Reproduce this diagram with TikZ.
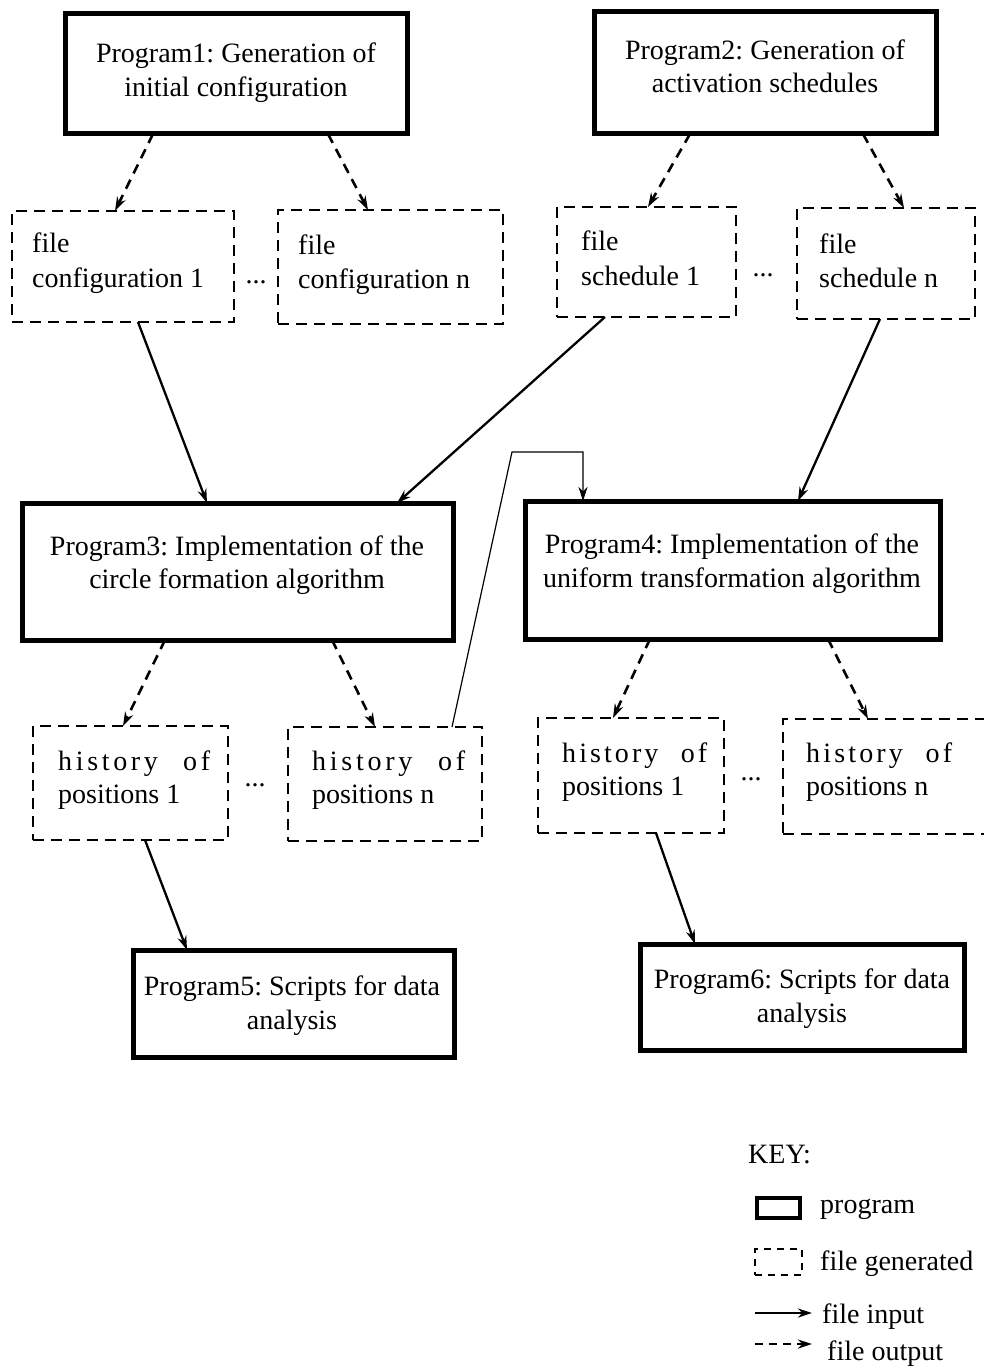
\documentclass[tikz,border=0pt]{standalone}
\usepackage{fontspec}
\setmainfont{Liberation Serif}
\usetikzlibrary{arrows.meta}
\frenchspacing
\newcommand{\histline}[1]{\makebox[#1][s]{h\hfill i\hfill s\hfill t\hfill o\hfill r\hfill y\hskip 7pt plus 5fill o\hfill f}}
\begin{document}
\begin{tikzpicture}[x=1pt,y=-1pt,
  prog/.style={draw, line width=5pt, rectangle, inner sep=0pt, outer sep=0pt, anchor=north west},
  filebox/.style={draw, line width=1.6pt, dash pattern=on 11pt off 7pt, rectangle, inner sep=0pt, outer sep=0pt, anchor=north west},
  txt/.style={inner sep=0pt, font=\fontsize{28}{34}\selectfont},
  tip/.style={-{Stealth[length=14pt,width=9pt,inset=4.5pt]}},
  fin/.style={line width=2.3pt, tip},
  fout/.style={line width=2.6pt, dash pattern=on 10pt off 7pt, tip},
  link/.style={line width=1.2pt, tip},
]
\useasboundingbox (0,0) rectangle (984,1370);
\clip (0,0) rectangle (984,1370);

% program boxes
\node[prog, minimum width=342pt, minimum height=120pt] (p1) at (65,14) {};
\node[prog, minimum width=342pt, minimum height=122pt] (p2) at (594,12) {};
\node[prog, minimum width=431pt, minimum height=137pt] (p3) at (22,503) {};
\node[prog, minimum width=415pt, minimum height=138pt] (p4) at (525,501) {};
\node[prog, minimum width=321pt, minimum height=107pt] (p5) at (133,950) {};
\node[prog, minimum width=324pt, minimum height=106pt] (p6) at (640,944) {};

\node[txt, anchor=base] (p1a) at (236,63) {Program1: Generation of};
\node[txt, anchor=base] (p1b) at (236,97) {initial configuration};
\node[txt, anchor=base] (p2a) at (765,60) {Program2: Generation of};
\node[txt, anchor=base] (p2b) at (765,93) {activation schedules};
\node[txt, anchor=base] (p3a) at (237,555) {Program3: Implementation of the};
\node[txt, anchor=base] (p3b) at (237,588) {circle formation algorithm};
\node[txt, anchor=base] (p4a) at (732,553) {Program4: Implementation of the};
\node[txt, anchor=base] (p4b) at (732,587) {uniform transformation algorithm};
\node[txt, anchor=base] (p5a) at (292,995) {Program5: Scripts for data};
\node[txt, anchor=base] (p5b) at (292,1029) {analysis};
\node[txt, anchor=base] (p6a) at (802,988) {Program6: Scripts for data};
\node[txt, anchor=base] (p6b) at (802,1022) {analysis};

% file boxes
\node[filebox, minimum width=222pt, minimum height=111pt] (fc1) at (12,211) {};
\node[filebox, minimum width=225pt, minimum height=114pt] (fcn) at (278,210) {};
\node[filebox, minimum width=179pt, minimum height=110pt] (fs1) at (557,207) {};
\node[filebox, minimum width=178pt, minimum height=111pt] (fsn) at (797,208) {};
\node[filebox, minimum width=195pt, minimum height=114pt] (h1l) at (33,726) {};
\node[filebox, minimum width=194pt, minimum height=114pt] (hnl) at (288,727) {};
\node[filebox, minimum width=186pt, minimum height=115pt] (h1r) at (538,718) {};
\node[filebox, minimum width=215pt, minimum height=115pt] (hnr) at (783,719) {};

\node[txt, anchor=base west] (fc1a) at (32,252) {file};
\node[txt, anchor=base west] (fc1b) at (32,287) {configuration 1};
\node[txt, anchor=base west] (fcna) at (298,254) {file};
\node[txt, anchor=base west] (fcnb) at (298,288) {configuration n};
\node[txt, anchor=base west] (fs1a) at (581,250) {file};
\node[txt, anchor=base west] (fs1b) at (581,285) {schedule 1};
\node[txt, anchor=base west] (fsna) at (819,253) {file};
\node[txt, anchor=base west] (fsnb) at (819,287) {schedule n};
\node[txt, anchor=base west] (h1la) at (58,770) {\histline{152pt}};
\node[txt, anchor=base west] (h1lb) at (58,803) {positions 1};
\node[txt, anchor=base west] (hnla) at (312,770) {\histline{153pt}};
\node[txt, anchor=base west] (hnlb) at (312,803) {positions n};
\node[txt, anchor=base west] (h1ra) at (562,762) {\histline{145pt}};
\node[txt, anchor=base west] (h1rb) at (562,795) {positions 1};
\node[txt, anchor=base west] (hnra) at (806,762) {\histline{146pt}};
\node[txt, anchor=base west] (hnrb) at (806,795) {positions n};

% dots
\node[txt, anchor=base] (d1) at (256,283) {...};
\node[txt, anchor=base] (d2) at (763,276) {...};
\node[txt, anchor=base] (d3) at (255,786) {...};
\node[txt, anchor=base] (d4) at (751,780) {...};

% outputs
\draw[fout] ([xshift=88pt]p1.south west) -- ([xshift=103pt]fc1.north west);
\draw[fout] ([xshift=263pt]p1.south west) -- ([xshift=90pt]fcn.north west);
\draw[fout] ([xshift=96pt]p2.south west) -- ([xshift=91pt]fs1.north west);
\draw[fout] ([xshift=269pt]p2.south west) -- ([xshift=107pt]fsn.north west);
\draw[fout] ([xshift=143pt]p3.south west) -- ([xshift=90pt]h1l.north west);
\draw[fout] ([xshift=310pt]p3.south west) -- ([xshift=87pt]hnl.north west);
\draw[fout] ([xshift=125pt]p4.south west) -- ([xshift=75pt]h1r.north west);
\draw[fout] ([xshift=303pt]p4.south west) -- ([xshift=85pt]hnr.north west);

% inputs
\draw[fin] ([xshift=126pt]fc1.south west) -- ([xshift=185pt]p3.north west);
\draw[fin] ([xshift=48pt]fs1.south west) -- ([xshift=375pt]p3.north west);
\draw[fin] ([xshift=83pt]fsn.south west) -- ([xshift=273pt]p4.north west);
\draw[fin] ([xshift=112pt]h1l.south west) -- ([xshift=54pt]p5.north west);
\draw[fin] ([xshift=118pt]h1r.south west) -- ([xshift=55pt]p6.north west);

\coordinate (b1) at (512,452);
\coordinate (b2) at (583,452);
\draw[link] ([xshift=-30pt]hnl.north east) -- (b1) -- (b2) -- ([xshift=58pt]p4.north west);

% key
\node[txt, anchor=base west] (key) at (748,1163) {KEY:};
\node[prog, line width=4.5pt, minimum width=43pt, minimum height=20pt] (kp) at (757,1198) {};
\node[txt, anchor=base west] (kpt) at (820,1213) {program};
\node[filebox, line width=1.3pt, dash pattern=on 7pt off 6pt, minimum width=47pt, minimum height=26pt] (kf) at (755,1249) {};
\node[txt, anchor=base west] (kft) at (820,1270) {file generated};
\coordinate (ki1) at (755,1313);
\coordinate (ki2) at (812,1313);
\draw[fin] (ki1) -- (ki2);
\node[txt, anchor=base west] (kit) at (822,1323) {file input};
\coordinate (ko1) at (755,1344);
\coordinate (ko2) at (812,1344);
\draw[fout, dash pattern=on 8pt off 6pt] (ko1) -- (ko2);
\node[txt, anchor=base west] (kot) at (827,1360) {file output};
\end{tikzpicture}
\end{document}
